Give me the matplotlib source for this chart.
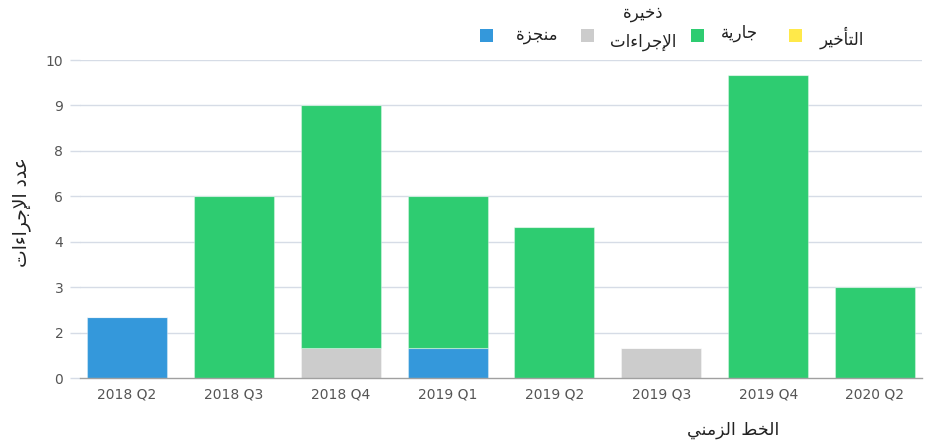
import matplotlib
matplotlib.use("Agg")
import matplotlib.pyplot as plt
from matplotlib.patches import Rectangle
import numpy as np

# ---------------- data ----------------
categories = ["2018 Q2", "2018 Q3", "2018 Q4", "2019 Q1", "2019 Q2", "2019 Q3", "2019 Q4", "2020 Q2"]
done =     [2, 0, 0, 1, 0, 0, 0, 0]   # منجزة
backlog =  [0, 0, 1, 0, 0, 1, 0, 0]   # ذخيرة الإجراءات
ongoing =  [0, 6, 8, 5, 5, 0, 10, 3]  # جارية
delayed =  [0, 0, 0, 0, 0, 0, 0, 0]   # التأخير
series_names = ["منجزة", "ذخيرة\nالإجراءات", "جارية", "التأخير"]
colors = ["#3498db", "#cccccc", "#2ecc71", "#ffe94a"]
ymax = 10.5
yticks = np.arange(0, ymax + 0.01, 1.5)
ytick_labels = [str(int(round(t))) for t in yticks]
xlabel_text = "الخط الزمني"
ylabel_text = "عدد الإجراءات"

# ---------------- minimal Arabic shaping ----------------
FORMS = {
    '\u0621': ('\uFE80', None, None, None),
    '\u0622': ('\uFE81', '\uFE82', None, None),
    '\u0623': ('\uFE83', '\uFE84', None, None),
    '\u0625': ('\uFE87', '\uFE88', None, None),
    '\u0627': ('\uFE8D', '\uFE8E', None, None),
    '\u0628': ('\uFE8F', '\uFE90', '\uFE91', '\uFE92'),
    '\u0629': ('\uFE93', '\uFE94', None, None),
    '\u062A': ('\uFE95', '\uFE96', '\uFE97', '\uFE98'),
    '\u062C': ('\uFE9D', '\uFE9E', '\uFE9F', '\uFEA0'),
    '\u062E': ('\uFEA5', '\uFEA6', '\uFEA7', '\uFEA8'),
    '\u062F': ('\uFEA9', '\uFEAA', None, None),
    '\u0630': ('\uFEAB', '\uFEAC', None, None),
    '\u0631': ('\uFEAD', '\uFEAE', None, None),
    '\u0632': ('\uFEAF', '\uFEB0', None, None),
    '\u0637': ('\uFEC1', '\uFEC2', '\uFEC3', '\uFEC4'),
    '\u0639': ('\uFEC9', '\uFECA', '\uFECB', '\uFECC'),
    '\u0644': ('\uFEDD', '\uFEDE', '\uFEDF', '\uFEE0'),
    '\u0645': ('\uFEE1', '\uFEE2', '\uFEE3', '\uFEE4'),
    '\u0646': ('\uFEE5', '\uFEE6', '\uFEE7', '\uFEE8'),
    '\u064A': ('\uFEF1', '\uFEF2', '\uFEF3', '\uFEF4'),
    'LA2': ('\uFEF5', '\uFEF6', None, None),
    'LA3': ('\uFEF7', '\uFEF8', None, None),
    'LA5': ('\uFEF9', '\uFEFA', None, None),
    'LA7': ('\uFEFB', '\uFEFC', None, None),
}
LIG = {'\u0622': 'LA2', '\u0623': 'LA3', '\u0625': 'LA5', '\u0627': 'LA7'}


def shape(text):
    units = []
    i = 0
    while i < len(text):
        c = text[i]
        if c == '\u0644' and i + 1 < len(text) and text[i + 1] in LIG:
            units.append(LIG[text[i + 1]])
            i += 2
        else:
            units.append(c)
            i += 1
    out = []
    for k, u in enumerate(units):
        if u not in FORMS:
            out.append(u)
            continue
        f = FORMS[u]
        prev = units[k - 1] if k > 0 else None
        nxt = units[k + 1] if k + 1 < len(units) else None
        jp = prev in FORMS and FORMS[prev][2] is not None and f[1] is not None
        jn = f[2] is not None and nxt in FORMS and FORMS[nxt][1] is not None
        if jp and jn:
            out.append(f[3])
        elif jp:
            out.append(f[1])
        elif jn:
            out.append(f[2])
        else:
            out.append(f[0])
    return ''.join(reversed(out))


# ---------------- figure ----------------
plt.rcParams['font.family'] = ['DejaVu Sans']
fig = plt.figure(figsize=(9.27, 4.47), dpi=100)
W, H = 927, 447
ax = fig.add_axes([80 / W, 1 - 378 / H, 842 / W, 318 / H])

x = np.arange(len(categories))
bw = 0.748
bottom = np.zeros(len(categories))
for vals, col in zip([done, backlog, ongoing, delayed], colors):
    v = np.array(vals, dtype=float)
    ax.bar(x, v, bw, bottom=bottom, color=col, edgecolor=(1, 1, 1, 0.35),
           linewidth=0.8, zorder=3)
    bottom += v

ax.set_xlim(-0.44, len(categories) - 1 + 0.44)
ax.set_ylim(0, ymax)
ax.set_yticks(yticks)
ax.set_yticklabels(ytick_labels)
ax.set_xticks(x)
ax.set_xticklabels(categories)

for yt in yticks[1:]:
    ax.axhline(yt, color="#d6dce6", linewidth=1, zorder=1)

for s in ["top", "right", "left"]:
    ax.spines[s].set_visible(False)
ax.spines["bottom"].set_color("#a0a0a0")
ax.spines["bottom"].set_linewidth(1)
ax.spines["bottom"].set_zorder(4)

ax.tick_params(axis="y", length=7, color="#d6dce6", width=1, pad=5,
               labelsize=10, labelcolor="#555555")
ax.tick_params(axis="x", length=0, pad=7, labelsize=10, labelcolor="#555555")

ax.set_xlabel(shape(xlabel_text), fontsize=12.5, color="#222222")
ax.xaxis.set_label_coords((733 - 80) / 842, (378 - 421) / 318)
ax.set_ylabel(shape(ylabel_text), fontsize=13.5, color="#222222")
ax.yaxis.set_label_coords((31 - 80) / 842, (378 - 212) / 318)

# ---------------- legend (manual, RTL style) ----------------
sq = 13
sq_centers = [486, 587, 697, 795]
txt_pos = [(537, 35), None, (739, 33), (842, 38)]
fs_leg = 12
for k in range(4):
    cx = sq_centers[k]
    fig.patches.append(Rectangle(((cx - sq / 2) / W, 1 - (35 + sq / 2) / H), sq / W, sq / H,
                                 transform=fig.transFigure, facecolor=colors[k],
                                 edgecolor="none"))
for k, name in enumerate(series_names):
    lines = name.split("\n")
    if len(lines) == 2:
        fig.text(643 / W, 1 - 13 / H, shape(lines[0]), ha="center", va="center",
                 fontsize=fs_leg, color="#222222")
        fig.text(643 / W, 1 - 42 / H, shape(lines[1]), ha="center", va="center",
                 fontsize=fs_leg, color="#222222")
    else:
        tx, ty = txt_pos[k]
        fig.text(tx / W, 1 - ty / H, shape(name), ha="center", va="center",
                 fontsize=fs_leg, color="#222222")

fig.savefig("out.png", dpi=100)
